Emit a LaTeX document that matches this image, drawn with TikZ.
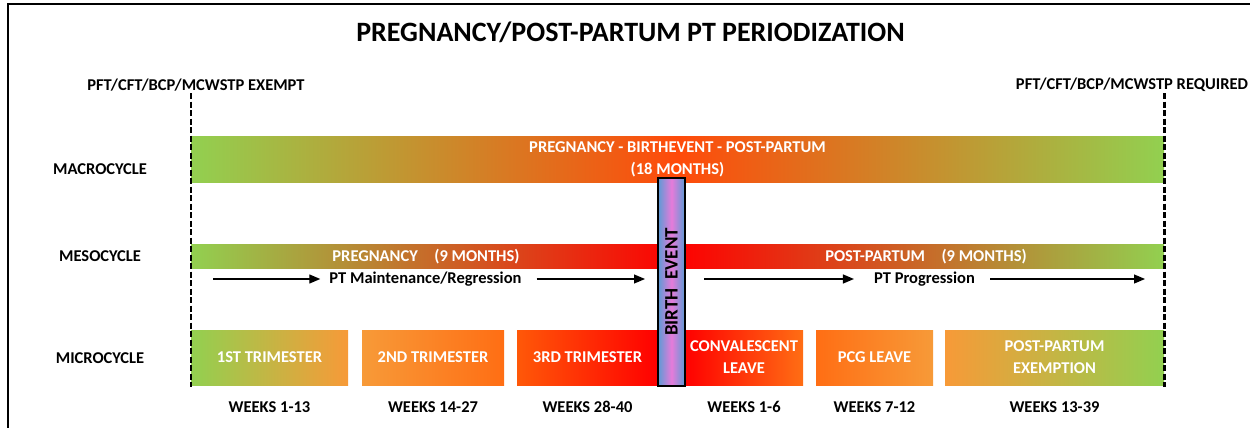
\documentclass[tikz,border=0pt]{standalone}
\usepackage{fontspec}
\setmainfont{Carlito}
\usepackage{tikz}
\usetikzlibrary{arrows.meta,positioning,calc}

\definecolor{pgreen}{HTML}{92D050}
\definecolor{porange}{HTML}{F79A38}
\definecolor{pdeep}{HTML}{FF6E14}
\definecolor{pflame}{HTML}{FF4A0A}
\definecolor{pscarlet}{HTML}{FF5808}
\definecolor{pred}{HTML}{FF0000}
\definecolor{pblue}{HTML}{5B9BD5}
\definecolor{ppink}{HTML}{E67BDA}

\begin{document}
\begin{tikzpicture}[x=1pt, y=-1pt,
  every node/.style={font=\fontsize{16.5}{22}\selectfont\bfseries, inner sep=0pt},
  rowlabel/.style={anchor=center},
  bartext/.style={text=white, align=center},
  micro/.style={minimum height=55pt, text=white, align=center},
  flow/.style={line width=1.2pt, -{Triangle[length=11pt,width=9pt]}},
  border/.style={dash pattern=on 6pt off 2.5pt, line width=2.2pt}]
  \useasboundingbox (0,0) rectangle (1250,428);
  % frame
  \draw[line width=2.2pt] (8,428) -- (8,4) -- (1250,4);
  \node (title) at (630.5,32) {\fontsize{28}{30}\selectfont PREGNANCY/POST-PARTUM PT PERIODIZATION};
  \node (exempt) at (196,85) {PFT/CFT/BCP/MCWSTP EXEMPT};
  \node (required) at (1132,85) {PFT/CFT/BCP/MCWSTP REQUIRED};

  % row labels
  \node[rowlabel] (lmacro) at (100,169) {MACROCYCLE};
  \node[rowlabel] (lmeso) at (100,256) {MESOCYCLE};
  \node[rowlabel] (lmicro) at (100,358) {MICROCYCLE};

  % macrocycle
  \node[minimum width=973pt, minimum height=46pt, left color=pgreen, right color=pgreen,
    middle color=pflame, bartext] (macro) at (677.5,159)
    {PREGNANCY - BIRTHEVENT - POST-PARTUM\\(18 MONTHS)};

  % mesocycle
  \node[minimum width=973pt, minimum height=24pt, left color=pgreen, right color=pgreen,
    middle color=pred] (meso) at (677.5,256) {};
  \node[bartext] (preg) at (426,257) {PREGNANCY\quad(9 MONTHS)};
  \node[bartext] (post) at (926,257) {POST-PARTUM\quad(9 MONTHS)};

  \node (maint) at (425.5,279) {PT Maintenance/Regression};
  \node (prog) at (924.5,279) {PT Progression};
  \coordinate (m1) at (213,279);
  \coordinate (m2) at (645,279);
  \coordinate (p1) at (704,279);
  \coordinate (p2) at (1145,279);
  \draw[flow] (m1) -- ([xshift=-9pt]maint.west);
  \draw[flow] ([xshift=15pt]maint.east) -- (m2);
  \draw[flow] (p1) -- ([xshift=-20pt]prog.west);
  \draw[flow] ([xshift=15pt]prog.east) -- (p2);

  % microcycle
  \foreach \nm/\xa/\xb/\ca/\cb/\txt/\wk in {
    tri1/191/348/pgreen/porange/{1ST TRIMESTER}/{WEEKS 1-13},
    tri2/362/504/porange/pdeep/{2ND TRIMESTER}/{WEEKS 14-27},
    tri3/517/658/pscarlet/pred/{3RD TRIMESTER}/{WEEKS 28-40},
    conv/685/803/pred/pdeep/{CONVALESCENT\\LEAVE}/{WEEKS 1-6},
    pcg/816/933/pdeep/porange/{PCG LEAVE}/{WEEKS 7-12},
    ppx/945/1164/porange/pgreen/{POST-PARTUM\\EXEMPTION}/{WEEKS 13-39}} {
    \node[micro, left color=\ca, right color=\cb, minimum width={(\xb-\xa)*1pt}]
      (\nm) at ({(\xa+\xb)/2},357.5) {\txt};
    \node (w\nm) at ([yshift=-22pt]\nm.south) {\wk};
  }

  % birth event
  \node[minimum width=27pt, minimum height=208pt, draw=black, line width=2.5pt,
    left color=pblue, right color=pblue, middle color=ppink] (birth) at (671.5,282) {};
  \node[rotate=90, font=\fontsize{19}{22}\selectfont\bfseries] (birthtxt)
    at (birth.center) {BIRTH\ \ EVENT};

  % exempt / required limits
  \coordinate (d1) at (191,93);
  \coordinate (d2) at (191,387);
  \coordinate (d3) at (1164.5,93);
  \coordinate (d4) at (1164.5,387);
  \draw[border] (d1) -- (d2);
  \draw[border] (d3) -- (d4);
\end{tikzpicture}
\end{document}
